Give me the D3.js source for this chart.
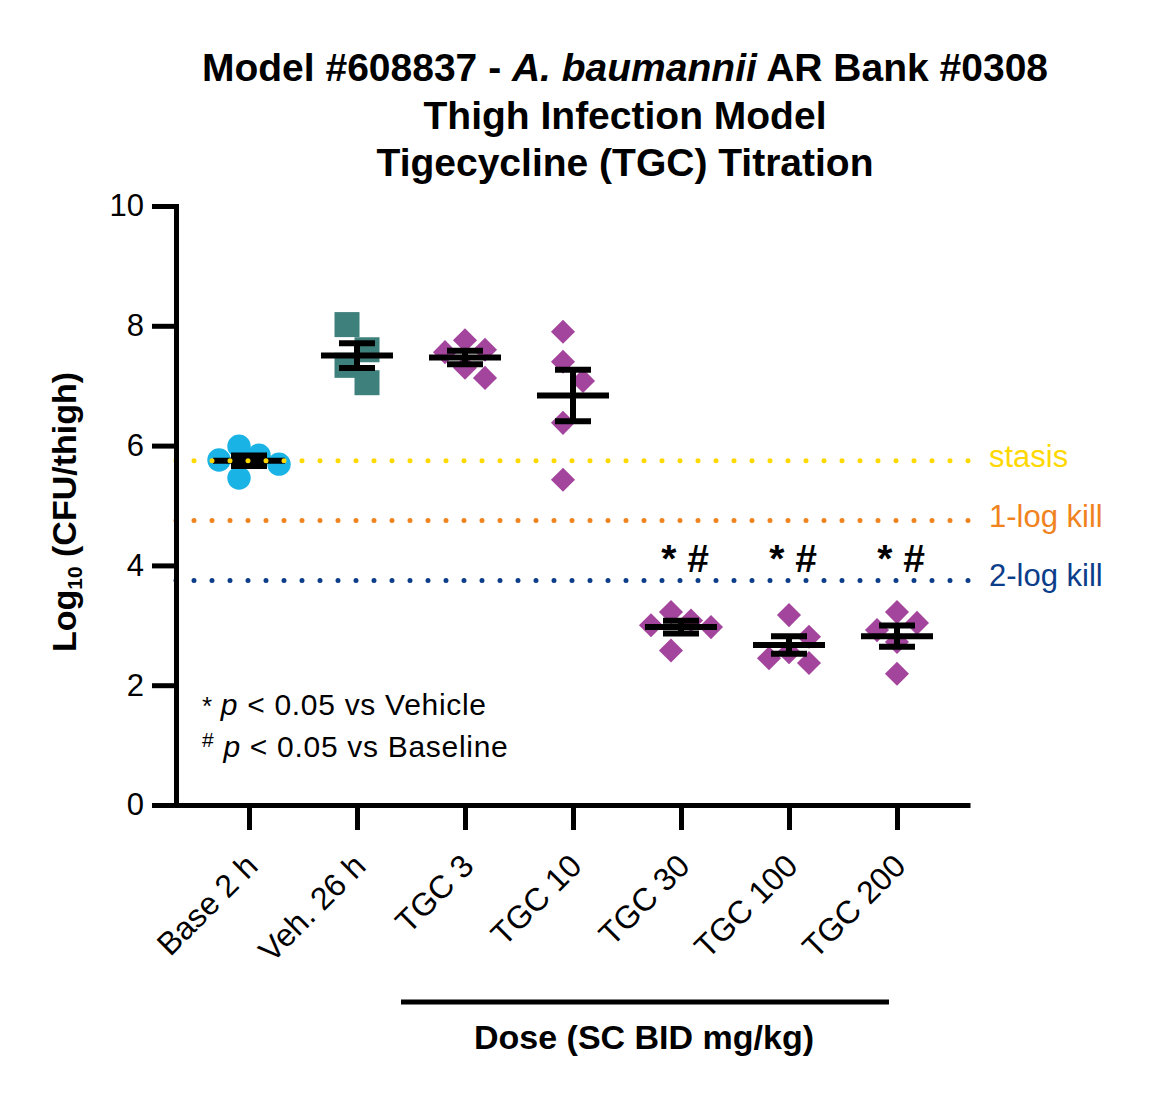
<!DOCTYPE html>
<html>
<head>
<meta charset="utf-8">
<script src="https://cdn.jsdelivr.net/npm/d3@7"></script>
<style>
  body { margin: 0; background: #fff; }
</style>
</head>
<body>
<div id="container"></div>
<script>
// Groups on the x axis and the log10 CFU/thigh values
const groups = ["Base 2 h", "Veh. 26 h", "TGC 3", "TGC 10", "TGC 30", "TGC 100", "TGC 200"];
const base2h = [5.99, 5.84, 5.76, 5.69, 5.46];
const veh26h = [8.02, 7.60, 7.34, 7.05];
const tgc3 = [7.76, 7.60, 7.56, 7.30, 7.13];
const tgc10 = [7.90, 7.40, 7.08, 6.38, 5.43];
const tgc30 = [3.22, 3.08, 3.00, 2.97, 2.58];
const tgc100 = [3.17, 2.81, 2.55, 2.45, 2.37];
const tgc200 = [3.22, 3.04, 2.92, 2.72, 2.19];
const sigMarks = ["", "", "", "", "* #", "* #", "* #"];
const yTicks = [0, 2, 4, 6, 8, 10];
const refNames = ["stasis", "1-log kill", "2-log kill"];
const refDrops = [0, 1, 2]; // log kill below the baseline mean

const groupValues = [base2h, veh26h, tgc3, tgc10, tgc30, tgc100, tgc200];

// Chart dimensions
const width = 1158;
const height = 1102;
const marginTop = 206;
const marginRight = 188;
const marginBottom = 297;
const marginLeft = 176;
const font = "'Liberation Sans', Arial, Helvetica, sans-serif";

const x = d3.scalePoint()
  .domain(groups)
  .range([marginLeft, width - marginRight])
  .padding(0.676);

const y = d3.scaleLinear()
  .domain([0, 10])
  .range([height - marginBottom, marginTop]);

const shapeOf = d3.scaleOrdinal().domain(groups)
  .range(["circle", "square", "diamond", "diamond", "diamond", "diamond", "diamond"]);
const colourOf = d3.scaleOrdinal().domain(groups)
  .range(["#19b3e6", "#3e807b", "#a3449d", "#a3449d", "#a3449d", "#a3449d", "#a3449d"]);
const refColour = d3.scaleOrdinal().domain(refNames).range(["#ffd800", "#f0831e", "#0c3d8a"]);

const svg = d3.create("svg").attr("width", width).attr("height", height)
  .style("font-family", font);
document.getElementById("container").appendChild(svg.node());

// Title
const title = svg.append("g").attr("font-size", 39).attr("font-weight", "bold")
  .attr("text-anchor", "middle");
const t1 = title.append("text").attr("x", 625).attr("y", 81);
t1.append("tspan").text("Model #608837 - ");
t1.append("tspan").attr("font-style", "italic").text("A. baumannii");
t1.append("tspan").text(" AR Bank #0308");
title.append("text").attr("x", 625).attr("y", 129).text("Thigh Infection Model");
title.append("text").attr("x", 625).attr("y", 176).text("Tigecycline (TGC) Titration");

// Simple swarm: push points sideways when they would overlap
function swarm(values, step) {
  const placed = [];
  values.slice().sort((a, b) => b - a).forEach(v => {
    const py = y(v);
    const cands = [0, step, -step, 2 * step, -2 * step, 3 * step, -3 * step];
    const dx = cands.find(c => placed.every(p =>
      Math.abs(p.dx - c) > step * 0.9 || Math.abs(p.py - py) > step * 1.3));
    placed.push({ v, py, dx });
  });
  const lo = d3.min(placed, p => p.dx), hi = d3.max(placed, p => p.dx);
  placed.forEach(p => p.dx -= (lo + hi) / 2);
  return placed;
}

// Points
groups.forEach((g, i) => {
  const pts = swarm(groupValues[i], 20);
  const shape = shapeOf(g);
  const layer = svg.append("g").attr("fill", colourOf(g));
  pts.forEach(p => {
    const cx = x(g) + p.dx;
    if (shape === "circle") {
      layer.append("circle").attr("cx", cx).attr("cy", p.py).attr("r", 11.7);
    } else if (shape === "square") {
      layer.append("rect").attr("x", cx - 12.5).attr("y", p.py - 12.5)
        .attr("width", 25).attr("height", 25);
    } else {
      layer.append("path")
        .attr("d", d3.symbol(d3.symbolSquare, 290)())
        .attr("transform", `translate(${cx},${p.py}) rotate(45)`);
    }
  });
});

// Mean and SEM
groups.forEach((g, i) => {
  const vals = groupValues[i];
  const m = d3.mean(vals);
  const sem = d3.deviation(vals) / Math.sqrt(vals.length);
  const cx = x(g);
  const eb = svg.append("g").attr("stroke", "#000").attr("stroke-width", 6);
  eb.append("line").attr("x1", cx).attr("x2", cx).attr("y1", y(m + sem)).attr("y2", y(m - sem));
  eb.append("line").attr("x1", cx - 18).attr("x2", cx + 18).attr("y1", y(m + sem)).attr("y2", y(m + sem));
  eb.append("line").attr("x1", cx - 18).attr("x2", cx + 18).attr("y1", y(m - sem)).attr("y2", y(m - sem));
  eb.append("line").attr("x1", cx - 36).attr("x2", cx + 36).attr("y1", y(m)).attr("y2", y(m));
});

// Reference lines from the baseline mean
const baseMean = d3.mean(base2h);
refNames.forEach((name, i) => {
  const ry = y(baseMean - refDrops[i]);
  svg.append("line")
    .attr("x1", marginLeft).attr("x2", width - marginRight)
    .attr("y1", ry).attr("y2", ry)
    .attr("stroke", refColour(name))
    .attr("stroke-width", 5)
    .attr("stroke-linecap", "round")
    .attr("stroke-dasharray", "0,18");
  svg.append("text")
    .attr("x", 989).attr("y", ry + 6)
    .attr("font-size", 31)
    .attr("fill", refColour(name))
    .text(name);
});

// Significance marks
const twoLogY = y(baseMean - 2);
groups.forEach((g, i) => {
  if (!sigMarks[i]) return;
  svg.append("text")
    .attr("x", x(g) + 4).attr("y", twoLogY - 8)
    .attr("text-anchor", "middle")
    .attr("font-size", 39).attr("font-weight", "bold")
    .text(sigMarks[i]);
});

// Y axis
const yAxis = svg.append("g")
  .attr("transform", `translate(${marginLeft},0)`)
  .call(d3.axisLeft(y).tickValues(yTicks).tickSize(24).tickSizeOuter(0).tickPadding(8));
yAxis.select(".domain").attr("stroke-width", 5).attr("stroke-linecap", "square");
yAxis.selectAll(".tick line").attr("stroke-width", 5);
yAxis.selectAll(".tick text").attr("font-size", 31).attr("font-family", font).attr("fill", "#000");

// X axis
const xAxis = svg.append("g")
  .attr("transform", `translate(0,${height - marginBottom})`)
  .call(d3.axisBottom(x).tickSize(25).tickSizeOuter(0));
xAxis.select(".domain").attr("stroke-width", 5);
xAxis.selectAll(".tick line").attr("stroke-width", 5);
xAxis.selectAll(".tick text")
  .attr("font-size", 32).attr("font-family", font).attr("fill", "#000")
  .attr("text-anchor", "end")
  .attr("x", 0).attr("y", 0).attr("dy", 0)
  .attr("transform", "translate(10,63) rotate(-45)");

// Y axis title
const yTitle = svg.append("text")
  .attr("transform", "translate(76,512) rotate(-90)")
  .attr("text-anchor", "middle")
  .attr("font-size", 34).attr("font-weight", "bold");
yTitle.append("tspan").text("Log");
yTitle.append("tspan").attr("font-size", 21).attr("dy", 6).text("10");
yTitle.append("tspan").attr("dy", -6).text(" (CFU/thigh)");

// Dose bracket and label
svg.append("line")
  .attr("x1", x("TGC 3") - 64).attr("x2", x("TGC 200") - 8)
  .attr("y1", 1002).attr("y2", 1002)
  .attr("stroke", "#000").attr("stroke-width", 5);
svg.append("text")
  .attr("x", 644).attr("y", 1049)
  .attr("text-anchor", "middle")
  .attr("font-size", 34).attr("font-weight", "bold")
  .text("Dose (SC BID mg/kg)");

// Legend for the significance marks
const note = svg.append("g").attr("font-size", 30).attr("letter-spacing", 0.7);
const n1 = note.append("text").attr("x", 202).attr("y", 715);
n1.append("tspan").attr("font-size", 26).text("* ");
n1.append("tspan").attr("font-style", "italic").text("p");
n1.append("tspan").text(" < 0.05 vs Vehicle");
const n2 = note.append("text").attr("x", 202).attr("y", 757);
n2.append("tspan").attr("font-size", 21).attr("dy", -10).text("#");
n2.append("tspan").attr("dy", 10).text(" ");
n2.append("tspan").attr("font-style", "italic").text("p");
n2.append("tspan").text(" < 0.05 vs Baseline");
</script>
</body>
</html>
